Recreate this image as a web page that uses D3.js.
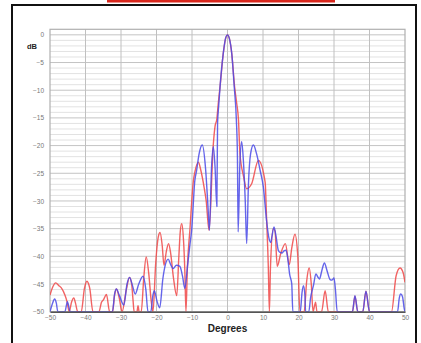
<!DOCTYPE html>
<html>
<head>
<meta charset="utf-8">
<script src="https://cdn.jsdelivr.net/npm/d3@7"></script>
<style>
  body { margin: 0; background: #fff; }
  svg { display: block; font-family: "Liberation Sans", Arial, sans-serif; }
</style>
</head>
<body>
<svg id="chart" width="421" height="343"></svg>
<script>
const width = 421, height = 343
const margin = {left: 50, right: 16, top: 29.3, bottom: 31.3}

// degrees / dB pairs
const redDeg = [-50, -49.2, -48.4, -47.5, -46.8, -45.8, -45.2, -44.6, -43.9, -43.3, -42.8, -42.2,
  -41.2, -40.3, -39.6, -38.8, -37.9, -36.2, -35.5, -34.9, -34.1, -33.2, -32.4, -31.8, -31.3, -30.5,
  -29.7, -28.5, -27.6, -27.0, -26.6, -26.3, -25.5, -25.2, -24.9, -24.3, -23.6, -22.9, -22.2, -21.5,
  -21.0, -20.2, -19.5, -19.0, -18.4, -17.9, -17.2, -16.6, -16.0, -15.2, -14.3, -13.7, -13.3, -12.9,
  -12.4, -12.0, -11.7, -11.3, -10.6, -9.6, -9.2, -8.2, -7.5, -6.6, -6.0, -5.2, -4.0, -3.5, -3.0,
  -2.6, -2.1, -1.2, -0.5, 0, 0.5, 1.2, 2.0, 2.6, 3.1, 3.5, 4.5, 5.4, 6.8, 8.7, 10.6, 11.0, 11.5,
  11.8, 12.1, 12.9, 13.4, 14.0, 15.0, 16.3, 17.4, 18.1, 19.0, 19.8, 20.4, 21.6, 22.3, 23.0, 23.6,
  24.1, 24.5, 24.8, 25.2, 26.5, 27.5, 28.4, 35.2, 35.9, 36.7, 38.1, 39.0, 40.0, 46.2, 47.5, 48.6,
  49.5, 50]
const redDb = [-47.0, -45.5, -44.8, -45.3, -45.7, -47.0, -48.2, -50, -48.2, -47.5, -48.5, -50,
  -50, -45.8, -44.5, -45.8, -50, -50, -48.3, -47.8, -46.9, -50, -50, -47.0, -45.9, -47.5,
  -50, -46.0, -43.8, -45.0, -48.0, -50, -50, -48.9, -50, -50, -44.0, -40.1, -43.0, -48.0,
  -50, -41.0, -36.5, -35.7, -38.0, -41.6, -39.0, -37.7, -39.5, -44.0, -47.1, -40.0, -35.5, -34.1,
  -37.0, -43.0, -50, -42.0, -35.3, -26.3, -24.8, -23.0, -24.5, -27.5, -30.0, -35.3, -19.8, -16.5, -15.2,
  -12.4, -9.4, -3.4, -0.6, 0, -0.6, -3.4, -9.4, -12.4, -15.4, -21.4, -25.5, -27.8, -26.9, -22.7, -26.6, -33.0, -42.0,
  -50, -42.0, -35.0, -35.5, -41.8, -39.5, -37.7, -41.5, -38.5, -36.0, -40.0, -50, -50, -44.5, -42.1, -45.0,
  -50, -49.0, -48.3, -50, -50, -46.2, -50, -50, -47.2, -50, -50, -46.3, -50, -50, -43.5, -42.1,
  -43.0, -44.7]

const blueDeg = [-50, -49.3, -48.7, -48.2, -47.8, -45.8, -45.1, -44.3, -32.4, -31.8, -31.3, -30.5,
  -29.2, -28.3, -27.6, -26.8, -26.0, -25.0, -23.8, -23.0, -22.4, -21.6, -21.0, -20.6, -19.9, -19.1,
  -18.2, -17.5, -16.7, -16.0, -15.3, -14.4, -13.4, -12.7, -12.0, -11.3, -10.6, -10.1, -9.2, -8.7,
  -8.0, -7.1, -6.2, -5.5, -5.1, -4.5, -4.0, -3.5, -3.0, -2.8, -2.5, -2.1, -1.2, -0.5, 0, 0.5, 1.2,
  1.9, 2.5, 2.8, 3.0, 3.5, 4.0, 4.5, 5.0, 5.4, 5.9, 6.5, 7.3, 8.2, 9.2, 10.1, 11.0, 11.6, 12.2, 12.5,
  13.1, 13.7, 14.3, 14.8, 15.4, 15.9, 16.5, 17.0, 17.5, 18.1, 18.4, 20.5, 21.0, 21.4, 21.8, 22.0,
  22.9, 23.4, 24.2, 24.9, 25.5, 25.9, 26.6, 27.3, 28.0, 28.9, 29.4, 30.0, 30.4, 30.9, 35.2, 35.9,
  36.7, 38.1, 39.0, 40.0, 47.9, 48.4, 48.8, 49.3, 49.8, 50]
const blueDb = [-50, -48.5, -47.7, -48.5, -50, -50, -48.2, -50, -50, -46.8, -45.9, -47.0,
  -48.8, -45.0, -43.8, -45.2, -46.8, -45.0, -43.6, -46.0, -50, -50, -47.0, -46.2, -48.0, -49.3,
  -44.0, -41.5, -40.5, -41.5, -42.2, -41.6, -41.8, -43.5, -45.8, -42.0, -38.0, -35.3, -26.3, -24.5,
  -21.5, -19.9, -24.0, -31.0, -35.3, -24.0, -20.2, -24.0, -31.0, -16.0, -13.0, -9.4, -3.4, -0.5, 0, -0.6, -3.4,
  -9.4, -15.4, -22.0, -35.6, -23.0, -19.3, -23.0, -30.0, -37.7, -27.0, -21.5, -19.9, -21.5, -24.5, -27.5, -33.5, -36.5, -37.5, -36.5,
  -34.7, -36.5, -38.9, -39.3, -39.4, -39.0, -38.9, -40.5, -43.2, -45.0, -50, -50, -46.5, -45.3, -47.0, -50,
  -50, -47.5, -45.3, -43.2, -43.8, -44.1, -42.5, -41.2, -42.5, -44.2, -44.3, -43.9, -46.0, -50, -50, -47.1,
  -50, -50, -46.3, -50, -50, -47.5, -46.8, -47.3, -49.5, -50]

const xTicks = [-50, -40, -30, -20, -10, 0, 10, 20, 30, 40, 50]
const yTicks = [0, -5, -10, -15, -20, -25, -30, -35, -40, -45, -50]

const svg = d3.select('#chart')

// marco negro y barra roja de arriba
svg.append('rect')
  .attr('x', 12).attr('y', 5)
  .attr('width', 404).attr('height', 345)
  .attr('fill', '#fff').attr('stroke', '#111').attr('stroke-width', 2)
svg.append('rect')
  .attr('x', 107).attr('y', 0)
  .attr('width', 228).attr('height', 2.5)
  .attr('fill', '#d8261c')

const x = d3.scaleLinear().domain([-50, 50]).range([margin.left, width - margin.right])
const y = d3.scaleLinear().domain([-50, 1]).range([height - margin.bottom, margin.top])

// grid
svg.append('g')
  .selectAll('line')
  .data(d3.range(-50, 1, 1))
  .join('line')
  .attr('x1', x(-50)).attr('x2', x(50))
  .attr('y1', d => y(d)).attr('y2', d => y(d))
  .attr('stroke', d => d % 5 === 0 ? '#c4c4c4' : '#e2e2e2')
  .attr('stroke-width', 1)

svg.append('g')
  .selectAll('line')
  .data(xTicks.slice(1, -1))
  .join('line')
  .attr('x1', d => x(d)).attr('x2', d => x(d))
  .attr('y1', y(1)).attr('y2', y(-50))
  .attr('stroke', '#c0c0c0')

// plot frame
svg.append('rect')
  .attr('x', x(-50)).attr('y', y(1))
  .attr('width', x(50) - x(-50)).attr('height', y(-50) - y(1))
  .attr('fill', 'none').attr('stroke', '#b0b0b0').attr('stroke-width', 1.2)

svg.append('defs').append('clipPath').attr('id', 'clip')
  .append('rect')
  .attr('x', x(-50)).attr('y', y(1))
  .attr('width', x(50) - x(-50)).attr('height', y(-50) - y(1))

const line = d3.line()
  .x(d => x(d[0]))
  .y(d => y(d[1]))
  .curve(d3.curveMonotoneX)

const series = [
  {deg: redDeg, db: redDb, color: '#f04848'},
  {deg: blueDeg, db: blueDb, color: '#4a4ae8'}
]

svg.append('g')
  .attr('clip-path', 'url(#clip)')
  .selectAll('path')
  .data(series)
  .join('path')
  .attr('d', s => line(s.deg.map((d, i) => [d, s.db[i]])))
  .attr('fill', 'none')
  .attr('stroke', s => s.color)
  .attr('stroke-width', 1.4)
  .attr('stroke-opacity', 0.85)
  .attr('stroke-linejoin', 'round')

// eje x
const xAxis = d3.axisBottom(x).tickValues(xTicks).tickSize(0).tickPadding(4)
svg.append('g')
  .attr('transform', `translate(0, ${y(-50)})`)
  .call(xAxis)
  .call(g => g.select('.domain').attr('stroke', '#555').attr('stroke-width', 1.5))
  .call(g => g.selectAll('text').attr('fill', '#777').attr('font-size', 6.5))
  .append('text')
  .text('Degrees')
  .attr('x', x(0))
  .attr('y', 20)
  .attr('fill', '#222')
  .attr('font-size', '10px')
  .attr('font-weight', 'bold')
  .attr('text-anchor', 'middle')

// eje y
const yAxis = d3.axisLeft(y).tickValues(yTicks).tickSize(0).tickPadding(6)
svg.append('g')
  .attr('transform', `translate(${margin.left}, 0)`)
  .call(yAxis)
  .call(g => g.select('.domain').remove())
  .call(g => g.selectAll('text').attr('fill', '#777').attr('font-size', 6.5))
  .append('text')
  .text('dB')
  .attr('x', -18)
  .attr('y', y(-2.5))
  .attr('fill', '#222')
  .attr('font-size', '7.5px')
  .attr('font-weight', 'bold')
  .attr('text-anchor', 'middle')
</script>
</body>
</html>
